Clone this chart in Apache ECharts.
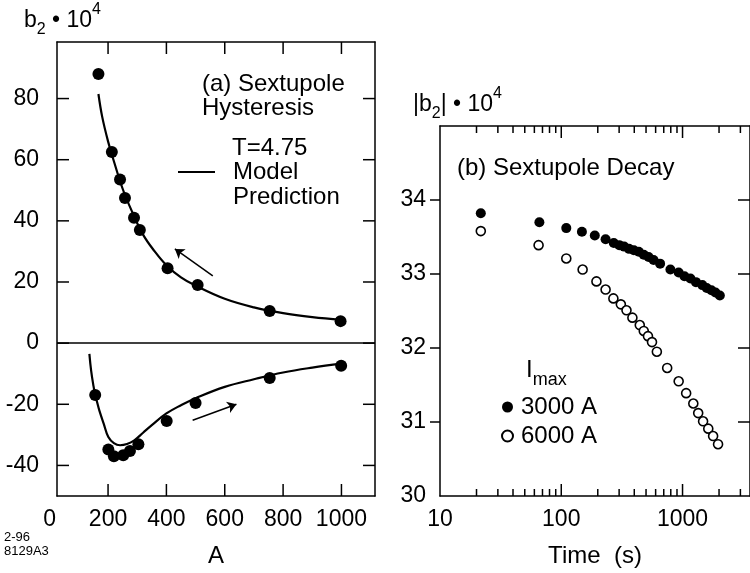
<!DOCTYPE html>
<html>
<head>
<meta charset="utf-8">
<script src="https://cdn.jsdelivr.net/npm/echarts@6/dist/echarts.min.js"></script>
<style>
  html, body { margin: 0; padding: 0; background: #fff; }
  #chart { width: 750px; height: 573px; }
</style>
</head>
<body>
<div id="chart"></div>
<script>
// (a) sextupole hysteresis : current (A) vs b2 * 1e4
var downA = [167, 213, 241, 258, 289, 309, 404, 507, 754, 997];
var downB = [88, 62.5, 53.5, 47.5, 41, 37, 24.5, 19, 10.5, 7.2];
var upA = [156, 201, 220, 252, 275, 304, 401, 500, 754, 999];
var upB = [-17, -34.8, -37, -36.7, -35.3, -33.1, -25.5, -19.6, -11.4, -7.4];
var modelDownA = [167, 180, 200, 220, 250, 280, 320, 360, 400, 450, 500, 600, 700, 800, 900, 1000];
var modelDownB = [81.5, 74, 66, 59.5, 50.5, 43.5, 35.5, 30, 25.5, 21.5, 18.8, 14.5, 11.7, 9.8, 8.5, 7.6];
var modelUpA = [136, 142, 150, 156, 163, 170, 185, 201, 220, 241, 265, 290, 320, 350, 400, 450, 500, 600, 700, 800, 900, 1000];
var modelUpB = [-3.5, -9, -14, -17, -19.5, -22, -26.3, -30.7, -32.7, -33.4, -33, -31.8, -29.3, -26.8, -23, -20.3, -18, -14.3, -11.8, -9.6, -8, -6.7];
var arrowDown = [[559, 22], [429, 30.8]];
var arrowUp = [[490, -25.2], [640, -20]];
var ticksA = [200, 400, 600, 800, 1000];
var ticksB = [-40, -20, 0, 20, 40, 60, 80];

// (b) sextupole decay : time (s) vs |b2| * 1e4
var fillT = [21.7, 66, 110, 148, 189, 232, 271, 301, 330, 362, 397, 436, 479, 525, 577, 653, 794, 929, 1037, 1161, 1290, 1456, 1583, 1730, 1868, 2030];
var fillB = [33.82, 33.70, 33.62, 33.57, 33.52, 33.47, 33.42, 33.39, 33.37, 33.34, 33.32, 33.30, 33.26, 33.23, 33.19, 33.14, 33.06, 33.02, 32.97, 32.94, 32.89, 32.85, 32.81, 32.78, 32.75, 32.71];
var openT = [21.7, 65, 110, 150, 195, 232, 269, 310, 345, 386, 444, 479, 519, 560, 614, 747, 929, 1071, 1227, 1346, 1477, 1630, 1787, 1963];
var openB = [33.58, 33.39, 33.21, 33.06, 32.90, 32.79, 32.67, 32.59, 32.51, 32.41, 32.31, 32.23, 32.16, 32.08, 31.95, 31.73, 31.55, 31.39, 31.25, 31.12, 31.01, 30.91, 30.81, 30.70];
var majorT = [100, 1000];
var minorT = [20, 30, 40, 50, 60, 70, 80, 90, 200, 300, 400, 500, 600, 700, 800, 900, 2000, 3000];
var ticksY = [31, 32, 33, 34];

function zip(a, b) {
  return a.map(function (v, i) { return [v, b[i]]; });
}

var FONT = 'Liberation Sans, Arial, Helvetica, sans-serif';
var ink = '#000';
var aMin = 25, aMax = 1115, bMin = -50, bMax = 98.5;
var tMin = 10, tMax = 3600, yMin = 30, yMax = 35;

function seg(p, q) { return [{ coord: p }, { coord: q }]; }
function frame() { return { show: true, onZero: false, lineStyle: { color: ink, width: 1.5 } }; }
function lbl(extra) {
  return Object.assign({ color: ink, fontSize: 23, fontFamily: FONT,
    formatter: function (v) { return String(v); } }, extra);
}
var noTick = { show: false };
var noSplit = { show: false };
var titleRich = {
  m: { fontSize: 23, fontFamily: FONT, lineHeight: 30, verticalAlign: 'bottom' },
  s: { fontSize: 16, fontFamily: FONT, lineHeight: 30, verticalAlign: 'bottom', padding: [0, 0, -6, 0] },
  p: { fontSize: 16, fontFamily: FONT, lineHeight: 30, verticalAlign: 'top' }
};

var texts = [
  { type: 'text', left: 24, top: 2, style: { text: '{m|b}{s|2}{m| • 10}{p|4}', fill: ink, rich: titleRich } },
  { type: 'text', left: 413, top: 86, style: { text: '{m||b}{s|2}{m|| • 10}{p|4}', fill: ink, rich: titleRich } },
  { type: 'text', x: 202, y: 84, style: { text: '(a) Sextupole', font: '24px ' + FONT, fill: ink, verticalAlign: 'middle' } },
  { type: 'text', x: 202, y: 108, style: { text: 'Hysteresis', font: '24px ' + FONT, fill: ink, verticalAlign: 'middle' } },
  { type: 'text', x: 232, y: 148, style: { text: 'T=4.75', font: '24px ' + FONT, fill: ink, verticalAlign: 'middle' } },
  { type: 'text', x: 233, y: 172, style: { text: 'Model', font: '24px ' + FONT, fill: ink, verticalAlign: 'middle' } },
  { type: 'text', x: 233, y: 197, style: { text: 'Prediction', font: '24px ' + FONT, fill: ink, verticalAlign: 'middle' } },
  { type: 'line', shape: { x1: 178, y1: 172, x2: 215, y2: 172 }, style: { stroke: ink, lineWidth: 2 } },
  { type: 'text', x: 457, y: 168, style: { text: '(b) Sextupole Decay', font: '24px ' + FONT, fill: ink, verticalAlign: 'middle' } },
  { type: 'text', left: 526, top: 358, style: {
    text: '{m|I}{s|max}', fill: ink,
    rich: { m: { fontSize: 24, fontFamily: FONT, lineHeight: 30, verticalAlign: 'bottom' },
            s: { fontSize: 18, fontFamily: FONT, lineHeight: 30, verticalAlign: 'bottom', padding: [0, 0, -7, 0] } } } },
  { type: 'text', x: 4, y: 537, style: { text: '2-96', font: '13px ' + FONT, fill: ink, verticalAlign: 'middle' } },
  { type: 'text', x: 4, y: 551, style: { text: '8129A3', font: '13px ' + FONT, fill: ink, verticalAlign: 'middle' } }
];

var chart = echarts.init(document.getElementById('chart'));
chart.setOption({
  animation: false,
  backgroundColor: '#fff',
  grid: [
    { left: 57, top: 42, width: 318, height: 454 },
    { left: 440, top: 126, width: 318, height: 371 },
    { left: 49.75, top: 42, width: 29.125, height: 454 }
  ],
  xAxis: [
    { gridIndex: 0, type: 'value', min: aMin, max: aMax, position: 'bottom',
      axisLine: frame(), splitLine: noSplit, axisTick: noTick,
      axisLabel: lbl({ margin: 12, customValues: ticksA.slice() }),
      name: 'A', nameLocation: 'middle', nameGap: 48,
      nameTextStyle: { color: ink, fontSize: 24, fontFamily: FONT } },
    { gridIndex: 0, type: 'value', min: aMin, max: aMax, position: 'top',
      axisLine: frame(), splitLine: noSplit, axisTick: noTick, axisLabel: { show: false } },
    { gridIndex: 2, type: 'value', min: 0, max: 100,
      axisLine: { show: false, onZero: false }, axisTick: noTick, splitLine: noSplit,
      axisLabel: lbl({ margin: 12, customValues: [0] }) },
    { gridIndex: 1, type: 'log', min: tMin, max: tMax, position: 'bottom',
      axisLine: frame(), splitLine: noSplit, axisTick: noTick,
      axisLabel: lbl({ margin: 12, showMaxLabel: false }),
      name: 'Time  (s)', nameLocation: 'middle', nameGap: 48,
      nameTextStyle: { color: ink, fontSize: 24, fontFamily: FONT } },
    { gridIndex: 1, type: 'log', min: tMin, max: tMax, position: 'top',
      axisLine: frame(), splitLine: noSplit, axisTick: noTick, axisLabel: { show: false } }
  ],
  yAxis: [
    { gridIndex: 0, type: 'value', min: bMin, max: bMax, position: 'left',
      axisLine: frame(), splitLine: noSplit, axisTick: noTick,
      axisLabel: lbl({ margin: 18, customValues: ticksB.slice() }) },
    { gridIndex: 0, type: 'value', min: bMin, max: bMax, position: 'right',
      axisLine: frame(), splitLine: noSplit, axisTick: noTick, axisLabel: { show: false } },
    { gridIndex: 2, type: 'value', min: 0, max: 1, show: false },
    { gridIndex: 1, type: 'value', min: yMin, max: yMax, interval: 1, position: 'left',
      axisLine: frame(), splitLine: noSplit, axisTick: noTick,
      axisLabel: lbl({ margin: 14, showMaxLabel: false }) },
    { gridIndex: 1, type: 'value', min: yMin, max: yMax, interval: 1, position: 'right',
      axisLine: frame(), splitLine: noSplit, axisTick: noTick, axisLabel: { show: false } }
  ],
  legend: {
    data: ['3000 A', '6000 A'], orient: 'vertical', left: 496, top: 390,
    icon: 'circle', itemWidth: 11, itemHeight: 11, itemGap: 5,
    textStyle: { color: ink, fontSize: 24, fontFamily: FONT, padding: [0, 0, 0, 3] }
  },
  series: [
    { type: 'line', name: 'model down', xAxisIndex: 0, yAxisIndex: 0,
      data: zip(modelDownA, modelDownB), smooth: 0.4, showSymbol: false,
      lineStyle: { color: ink, width: 2.2 }, silent: true,
      markLine: { silent: true, symbol: ['none', 'arrow'], symbolSize: 9,
        lineStyle: { color: ink, width: 1.5, type: 'solid' }, label: { show: false },
        data: [seg(arrowDown[0], arrowDown[1]), seg(arrowUp[0], arrowUp[1])] } },
    { type: 'line', name: 'model up', xAxisIndex: 0, yAxisIndex: 0,
      data: zip(modelUpA, modelUpB), smooth: 0.4, showSymbol: false,
      lineStyle: { color: ink, width: 2.2 }, silent: true,
      markLine: { silent: true, symbol: 'none', label: { show: false },
        lineStyle: { color: ink, width: 1.5, type: 'solid' },
        data: [{ yAxis: 0 }] } },
    { type: 'scatter', name: 'down', xAxisIndex: 0, yAxisIndex: 0,
      data: zip(downA, downB), symbolSize: 12, itemStyle: { color: ink, opacity: 1 } },
    { type: 'scatter', name: 'up', xAxisIndex: 0, yAxisIndex: 0,
      data: zip(upA, upB), symbolSize: 12, itemStyle: { color: ink, opacity: 1 } },
    { type: 'scatter', name: '3000 A', xAxisIndex: 3, yAxisIndex: 3,
      data: zip(fillT, fillB), symbolSize: 10, itemStyle: { color: ink, opacity: 1 } },
    { type: 'scatter', name: '6000 A', xAxisIndex: 3, yAxisIndex: 3,
      data: zip(openT, openB), symbolSize: 9,
      itemStyle: { color: '#fff', borderColor: ink, borderWidth: 1.6, opacity: 1 } }
  ],
  graphic: texts
});

// tick marks, placed through each axis' own scale
function px(dim, idx, v) {
  var f = {};
  f[dim + 'AxisIndex'] = idx;
  return chart.convertToPixel(f, v);
}
function tickLine(x1, y1, x2, y2) {
  return { type: 'line', z: 100, silent: true,
    shape: { x1: x1, y1: y1, x2: x2, y2: y2 }, style: { stroke: ink, lineWidth: 1.5 } };
}
var ticks = [];
var L = { l: px('x', 0, aMin), r: px('x', 0, aMax), b: px('y', 0, bMin), t: px('y', 0, bMax) };
ticksA.forEach(function (a) {
  var x = px('x', 0, a);
  ticks.push(tickLine(x, L.b, x, L.b - 12), tickLine(x, L.t, x, L.t + 12));
});
ticksB.forEach(function (b) {
  var y = px('y', 0, b);
  ticks.push(tickLine(L.l, y, L.l + 12, y), tickLine(L.r, y, L.r - 12, y));
});
var R = { l: px('x', 3, tMin), r: px('x', 3, tMax), b: px('y', 3, yMin), t: px('y', 3, yMax) };
majorT.forEach(function (t) {
  var x = px('x', 3, t);
  ticks.push(tickLine(x, R.b, x, R.b - 12), tickLine(x, R.t, x, R.t + 12));
});
minorT.forEach(function (t) {
  var x = px('x', 3, t);
  ticks.push(tickLine(x, R.b, x, R.b - 7), tickLine(x, R.t, x, R.t + 7));
});
ticksY.forEach(function (v) {
  var y = px('y', 3, v);
  ticks.push(tickLine(R.l - 10, y, R.l, y), tickLine(R.r, y, R.r - 12, y));
});
chart.setOption({ graphic: texts.concat(ticks) });
</script>
</body>
</html>
